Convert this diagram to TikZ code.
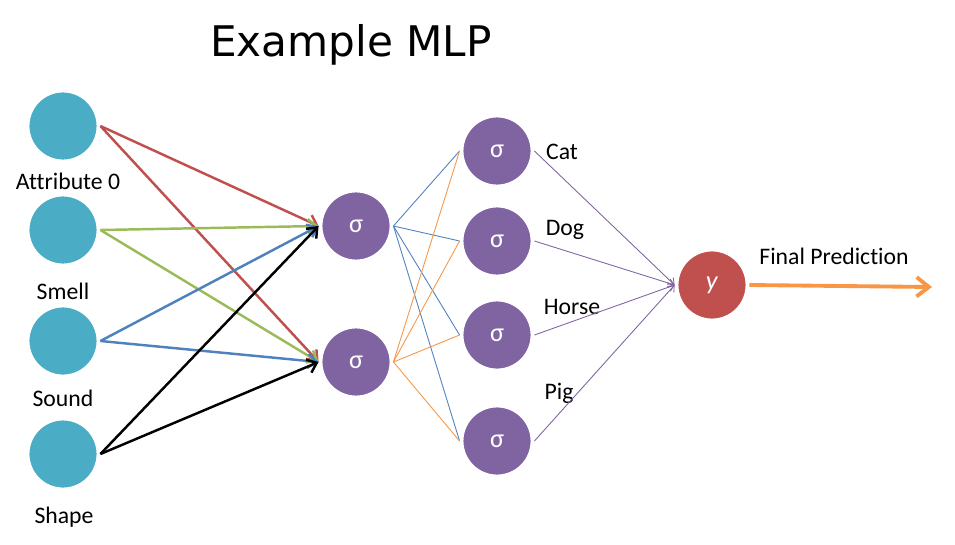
\documentclass[tikz,border=0pt]{standalone}
\usepackage{fontspec}
\setmainfont{Carlito}[Ligatures=NoCommon]
\newfontfamily\titlefont{DejaVu Sans}
\usetikzlibrary{arrows.meta,shadows}

\begin{document}
\begin{tikzpicture}[x=0.02cm,y=-0.02cm,>={Straight Barb[length=5pt,width=8pt]}]
		%---------------- Colors & styles ----------------
		\definecolor{inblue}{RGB}{75,172,198}    % input neurons
		\definecolor{neuron}{RGB}{128,100,162}   % sigma neurons
		\definecolor{predred}{RGB}{192,80,77}    % output neuron
		\definecolor{wred}{RGB}{192,80,77}       % Attribute 0 weights
		\definecolor{wgreen}{RGB}{155,187,89}    % Smell weights
		\definecolor{wblue}{RGB}{79,129,189}     % Sound weights
		\definecolor{worange}{RGB}{247,150,70}   % second hidden neuron weights
		\tikzset{
			unit/.style={circle, draw=white, line width=2.2pt, minimum size=1.42cm,
				inner sep=0pt, text=white, font=\fontsize{15}{17}\selectfont,
				drop shadow={opacity=0.22, shadow xshift=0.5pt, shadow yshift=-0.9pt}},
			inunit/.style={unit, fill=inblue},
			sigunit/.style={unit, fill=neuron},
			predunit/.style={unit, fill=predred},
			lbl/.style={font=\fontsize{13.5}{15}\selectfont, black},
			wthick/.style={->, line width=1.4pt},          % input -> hidden
			wthin/.style={line width=0.5pt},               % hidden -> output
			wout/.style={->, neuron, line width=0.5pt,
				>={Straight Barb[length=3pt,width=5pt]}},  % output -> y
		}
		
		\useasboundingbox (0,0) rectangle (955,544);
		
		%---------------- Title ----------------
		\node[font=\titlefont\fontsize{24}{28}\selectfont] (title) at (351,45) {Example MLP};
		
		%---------------- Input layer ----------------
		\node[inunit] (in1) at (63,126) {};
		\node[inunit] (in2) at (63,230) {};
		\node[inunit] (in3) at (63,341) {};
		\node[inunit] (in4) at (63,454) {};
		\node[lbl] (lin1) at (68,181) {Attribute 0};
		\node[lbl] (lin2) at (63,291) {Smell};
		\node[lbl] (lin3) at (63,398) {Sound};
		\node[lbl] (lin4) at (64,517) {Shape};
		
		%---------------- Hidden layer ----------------
		\node[sigunit] (hid1) at (356,226) {σ};
		\node[sigunit] (hid2) at (356,362) {σ};
		
		%---------------- Output layer ----------------
		\node[sigunit] (out1) at (497,151) {σ};
		\node[sigunit] (out2) at (497,241) {σ};
		\node[sigunit] (out3) at (497,335) {σ};
		\node[sigunit] (out4) at (497,441) {σ};
		\node[lbl] (lout1) at (562,152) {Cat};
		\node[lbl] (lout2) at (565,230) {Dog};
		\node[lbl] (lout3) at (572,307) {Horse};
		\node[lbl] (lout4) at (559,393) {Pig};
		
		%---------------- Prediction ----------------
		\node[predunit] (pred) at (712,285) {\textit{y}};
		\node[lbl] (lpred) at (834,256) {Final Prediction};
		\coordinate (pend) at (932,287);
		
		%---------------- Input -> hidden weights ----------------
		\draw[wthick, wred]   (in1.east) -- (hid1.west);
		\draw[wthick, wred]   (in1.east) -- (hid2.west);
		\draw[wthick, wgreen] (in2.east) -- (hid1.west);
		\draw[wthick, wgreen] (in2.east) -- (hid2.west);
		\draw[wthick, wblue]  (in3.east) -- (hid1.west);
		\draw[wthick, wblue]  (in3.east) -- (hid2.west);
		\draw[wthick, black]  (in4.east) -- (hid1.west);
		\draw[wthick, black]  (in4.east) -- (hid2.west);
		
		%---------------- Hidden -> output weights ----------------
		\draw[wthin, wblue]   (hid1.east) -- (out1.west);
		\draw[wthin, wblue]   (hid1.east) -- (out2.west);
		\draw[wthin, wblue]   (hid1.east) -- (out3.west);
		\draw[wthin, wblue]   (hid1.east) -- (out4.west);
		\draw[wthin, worange] (hid2.east) -- (out1.west);
		\draw[wthin, worange] (hid2.east) -- (out2.west);
		\draw[wthin, worange] (hid2.east) -- (out3.west);
		\draw[wthin, worange] (hid2.east) -- (out4.west);
		
		%---------------- Output -> y ----------------
		\draw[wout] (out1.east) -- (pred.west);
		\draw[wout] (out2.east) -- (pred.west);
		\draw[wout] (out3.east) -- (pred.west);
		\draw[wout] (out4.east) -- (pred.west);
		
		%---------------- Final arrow ----------------
		\draw[->, worange, line width=2.2pt, >={Straight Barb[length=7pt,width=11pt]}]
		(pred.east) -- (pend);
	\end{tikzpicture}
\end{document}
